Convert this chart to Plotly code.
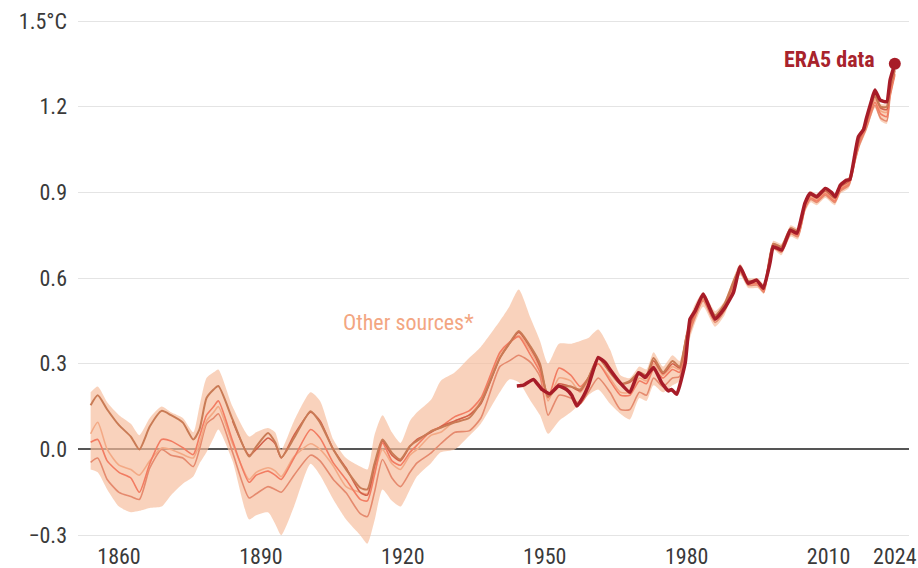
import plotly.graph_objects as go

# ---- data ----
years = [1854.0, 1855.5, 1857.5, 1860, 1862.5, 1864.3, 1866.5, 1869, 1871, 1873.5, 1875.7, 1877, 1878.5,
         1880, 1881, 1884, 1887.5, 1889, 1891.5, 1893, 1894.3, 1897, 1900.5, 1902.5, 1905.3, 1908, 1911,
         1912.5, 1914, 1915.7, 1917.7, 1919.5, 1921.5, 1923, 1926, 1928, 1931, 1934, 1936.5, 1940.5,
         1942.5, 1944.5, 1947, 1949, 1950.7, 1953, 1955.5, 1957.5, 1959.2, 1961.3, 1963.8, 1966, 1968,
         1970, 1971.5, 1973, 1975, 1977, 1978.5, 1980, 1981.5, 1983.5, 1986, 1988, 1991.3, 1993, 1995,
         1996.3, 1998.3, 2000, 2002, 2003.5, 2005, 2006.2, 2007.5, 2009.3, 2011.3, 2012.5, 2014.3, 2015.6,
         2016.5, 2018, 2019.8, 2021, 2022.3, 2023, 2024]

src_a = [0.155, 0.19, 0.14, 0.085, 0.045, 0.0, 0.08, 0.135, 0.12, 0.094, 0.035, 0.07, 0.18,
         0.21, 0.222, 0.105, -0.025, 0.01, 0.058, 0.025, -0.028, 0.04, 0.134, 0.094, 0.0, -0.07, -0.134,
         -0.14, -0.05, 0.035, -0.012, -0.035, 0.012, 0.03, 0.064, 0.076, 0.095, 0.11, 0.165, 0.32,
         0.37, 0.415, 0.36, 0.30, 0.185, 0.22, 0.22, 0.21, 0.25, 0.32, 0.27, 0.23, 0.24,
         0.27, 0.26, 0.32, 0.27, 0.31, 0.29, 0.40, 0.48, 0.535, 0.47, 0.51, 0.635, 0.59, 0.59,
         0.57, 0.72, 0.71, 0.775, 0.765, 0.86, 0.895, 0.885, 0.91, 0.885, 0.925, 0.945, 1.03,
         1.09, 1.15, 1.24, 1.20, 1.20, 1.27, 1.33]

src_b = [0.055, 0.095, 0.0, -0.055, -0.07, -0.09, -0.04, 0.005, 0.0, -0.018, -0.03, 0.02, 0.10,
         0.13, 0.15, 0.02, -0.105, -0.08, -0.064, -0.075, -0.095, -0.025, 0.02, 0.0, -0.058, -0.13, -0.15,
         -0.155, -0.08, 0.0, -0.05, -0.07, -0.02, 0.0, 0.05, 0.06, 0.10, 0.12, 0.17, 0.335,
         0.37, 0.40, 0.345, 0.28, 0.17, 0.25, 0.24, 0.20, 0.24, 0.30, 0.25, 0.20, 0.20,
         0.25, 0.24, 0.30, 0.26, 0.29, 0.28, 0.39, 0.47, 0.53, 0.465, 0.50, 0.63, 0.585, 0.585,
         0.56, 0.715, 0.70, 0.765, 0.755, 0.85, 0.885, 0.875, 0.90, 0.875, 0.915, 0.935, 1.02,
         1.08, 1.14, 1.225, 1.185, 1.18, 1.255, 1.32]

src_c = [0.025, 0.035, -0.04, -0.08, -0.10, -0.15, -0.05, 0.035, 0.03, 0.006, -0.018, 0.045, 0.12,
         0.15, 0.17, 0.03, -0.115, -0.09, -0.076, -0.09, -0.105, -0.03, 0.07, 0.04, -0.047, -0.105, -0.175,
         -0.18, -0.09, 0.023, -0.04, -0.055, -0.01, 0.015, 0.065, 0.08, 0.115, 0.135, 0.18, 0.34,
         0.375, 0.395, 0.33, 0.27, 0.18, 0.285, 0.26, 0.22, 0.25, 0.30, 0.24, 0.19, 0.19,
         0.24, 0.23, 0.28, 0.25, 0.28, 0.27, 0.385, 0.46, 0.525, 0.455, 0.495, 0.625, 0.58, 0.58,
         0.555, 0.71, 0.695, 0.76, 0.75, 0.845, 0.88, 0.87, 0.895, 0.87, 0.91, 0.93, 1.015,
         1.075, 1.135, 1.215, 1.175, 1.165, 1.245, 1.315]

src_d = [-0.045, -0.03, -0.105, -0.15, -0.165, -0.175, -0.065, 0.0, -0.02, -0.03, -0.06, 0.0, 0.09,
         0.11, 0.125, -0.01, -0.17, -0.155, -0.13, -0.14, -0.15, -0.09, -0.02, -0.04, -0.105, -0.152, -0.225,
         -0.235, -0.15, -0.035, -0.10, -0.13, -0.08, -0.047, -0.012, 0.02, 0.06, 0.065, 0.11, 0.29,
         0.31, 0.33, 0.305, 0.255, 0.12, 0.19, 0.18, 0.16, 0.20, 0.25, 0.20, 0.14, 0.14,
         0.20, 0.19, 0.25, 0.22, 0.25, 0.255, 0.37, 0.45, 0.52, 0.445, 0.485, 0.62, 0.575, 0.575,
         0.55, 0.705, 0.69, 0.755, 0.745, 0.84, 0.875, 0.865, 0.89, 0.865, 0.905, 0.925, 1.01,
         1.065, 1.125, 1.205, 1.16, 1.15, 1.235, 1.31]

src_e = [None, None, None, None, None, None, None, None, None, None, None, None, None,
         None, None, 0.10, -0.02, 0.0, 0.04, 0.02, -0.03, 0.05, 0.13, 0.10, 0.0, -0.065, -0.15,
         -0.16, -0.06, 0.03, -0.02, -0.04, 0.01, 0.035, 0.06, 0.08, 0.10, 0.12, 0.16, 0.32,
         0.37, 0.41, 0.355, 0.29, 0.19, 0.23, 0.22, 0.205, 0.25, 0.32, 0.27, 0.23, 0.235,
         0.265, 0.25, 0.31, 0.265, 0.30, 0.285, 0.40, 0.47, 0.535, 0.465, 0.505, 0.635, 0.585, 0.59,
         0.565, 0.72, 0.705, 0.77, 0.76, 0.855, 0.89, 0.88, 0.905, 0.88, 0.92, 0.94, 1.025,
         1.085, 1.145, 1.235, 1.195, 1.19, 1.265, 1.325]

band_upper = [0.20, 0.22, 0.165, 0.12, 0.09, 0.05, 0.11, 0.15, 0.13, 0.11, 0.06, 0.15, 0.25,
              0.27, 0.28, 0.15, 0.045, 0.06, 0.075, 0.06, 0.0, 0.10, 0.20, 0.17, 0.035, -0.03, -0.06,
              -0.07, 0.05, 0.12, 0.06, 0.023, 0.10, 0.13, 0.175, 0.24, 0.27, 0.32, 0.36, 0.45,
              0.50, 0.56, 0.46, 0.38, 0.30, 0.37, 0.37, 0.38, 0.39, 0.42, 0.35, 0.26, 0.25,
              0.29, 0.28, 0.34, 0.29, 0.33, 0.31, 0.42, 0.50, 0.55, 0.485, 0.52, 0.65, 0.60, 0.60,
              0.58, 0.73, 0.72, 0.785, 0.775, 0.87, 0.905, 0.895, 0.92, 0.895, 0.935, 0.955, 1.04,
              1.10, 1.16, 1.25, 1.21, 1.21, 1.28, 1.335]

band_lower = [-0.07, -0.08, -0.14, -0.20, -0.22, -0.215, -0.205, -0.20, -0.16, -0.12, -0.095, -0.05, -0.01,
              0.04, 0.07, -0.04, -0.245, -0.23, -0.22, -0.26, -0.30, -0.20, -0.05, -0.09, -0.175, -0.245, -0.30,
              -0.33, -0.25, -0.14, -0.18, -0.20, -0.14, -0.094, -0.047, -0.01, 0.0, 0.047, 0.09, 0.20,
              0.245, 0.235, 0.17, 0.12, 0.055, 0.10, 0.13, 0.16, 0.19, 0.21, 0.16, 0.125, 0.105,
              0.18, 0.17, 0.225, 0.20, 0.225, 0.24, 0.35, 0.43, 0.50, 0.43, 0.47, 0.61, 0.565, 0.565,
              0.545, 0.70, 0.68, 0.745, 0.735, 0.83, 0.865, 0.855, 0.88, 0.855, 0.895, 0.915, 1.00,
              1.055, 1.115, 1.195, 1.15, 1.14, 1.225, 1.305]

era5_years = [1944.1, 1945.5, 1947.6, 1949.4, 1951.1, 1952.9, 1954.6, 1955.7, 1956.8, 1958.2, 1959.2,
              1961.3, 1962.8, 1963.8, 1965.9, 1968, 1969.8, 1971.2, 1973, 1974.7, 1976.1, 1976.8, 1977.9,
              1979.7, 1980.7, 1981.8, 1983.5, 1986, 1988.1, 1989.9, 1991.3, 1993, 1994.8, 1996.2, 1997.6,
              1998.3, 2000.1, 2001.9, 2003.3, 2005, 2006.1, 2007.5, 2009.3, 2010.6, 2011.4, 2012.5, 2013.8,
              2014.5, 2015.6, 2016.3, 2017.4, 2018, 2019.1, 2019.8, 2020.9, 2022.3, 2023, 2024]
era5_vals = [0.222, 0.225, 0.245, 0.21, 0.195, 0.222, 0.21, 0.19, 0.152, 0.187, 0.222,
             0.322, 0.304, 0.28, 0.234, 0.20, 0.269, 0.252, 0.287, 0.234, 0.205, 0.21, 0.193,
             0.304, 0.456, 0.485, 0.544, 0.456, 0.497, 0.55, 0.64, 0.582, 0.593, 0.564, 0.652,
             0.71, 0.698, 0.768, 0.757, 0.862, 0.897, 0.885, 0.914, 0.90, 0.885, 0.926, 0.943,
             0.945, 1.037, 1.095, 1.12, 1.16, 1.223, 1.258, 1.223, 1.217, 1.293, 1.35]

y_ticks = [-0.3, 0.0, 0.3, 0.6, 0.9, 1.2, 1.5]
y_tick_labels = ["\u22120.3", "0.0", "0.3", "0.6", "0.9", "1.2", "1.5°C"]
x_ticks = [1860, 1890, 1920, 1950, 1980, 2010, 2024]
x_tick_labels = ["1860", "1890", "1920", "1950", "1980", "2010", "2024"]

FONT = "Roboto Condensed, Liberation Sans Narrow, Roboto, sans-serif"
SMOOTH = 0.6

fig = go.Figure()

# uncertainty band
fig.add_trace(go.Scatter(x=years, y=band_upper, mode="lines",
                         line=dict(width=0, shape="spline", smoothing=SMOOTH),
                         hoverinfo="skip", showlegend=False))
fig.add_trace(go.Scatter(x=years, y=band_lower, mode="lines",
                         line=dict(width=0, shape="spline", smoothing=SMOOTH),
                         fill="tonexty", fillcolor="rgba(246,188,156,0.68)",
                         hoverinfo="skip", showlegend=False))

series = [
    (src_d, "#e58a6e", 1.6),
    (src_b, "#f3a985", 1.6),
    (src_c, "#f27c62", 1.6),
    (src_e, "#d2604a", 1.6),
    (src_a, "#c97b55", 2.0),
]
for vals, col, w in series:
    fig.add_trace(go.Scatter(x=years, y=vals, mode="lines",
                             line=dict(color=col, width=w, shape="spline", smoothing=SMOOTH),
                             connectgaps=False, showlegend=False))

fig.add_trace(go.Scatter(x=era5_years, y=era5_vals, mode="lines",
                         line=dict(color="#a71c28", width=3.5, shape="spline", smoothing=0.4),
                         showlegend=False))
fig.add_trace(go.Scatter(x=[era5_years[-1]], y=[era5_vals[-1]], mode="markers",
                         marker=dict(color="#a71c28", size=12), showlegend=False))

fig.add_annotation(x=2020.3, y=1.365, text="<b>ERA5 data</b>", showarrow=False,
                   xanchor="right", yanchor="middle",
                   font=dict(family=FONT, size=22, color="#a8232c"))
fig.add_annotation(x=1921.1, y=0.446, text="Other sources*", showarrow=False,
                   xanchor="center", yanchor="middle",
                   font=dict(family=FONT, size=22, color="#f3a682"))

fig.update_layout(
    width=918, height=568,
    margin=dict(l=78, r=9, t=15, b=20, autoexpand=False),
    paper_bgcolor="white", plot_bgcolor="white",
    font=dict(family=FONT, size=22, color="#3a3a3a"),
    xaxis=dict(range=[1851.33, 2027.0], tickvals=x_ticks, ticktext=x_tick_labels,
               showgrid=False, zeroline=False, showline=False, ticks="",
               ticklabelstandoff=-7, automargin=False, ticklabeloverflow="allow"),
    yaxis=dict(range=[-0.345, 1.521], tickvals=y_ticks, ticktext=y_tick_labels,
               showgrid=True, gridcolor="#e4e4e4", gridwidth=1,
               zeroline=True, zerolinecolor="#555555", zerolinewidth=1.5,
               ticks="", ticklabelstandoff=10, automargin=False),
)

fig.write_html("out.html", config={"displayModeBar": False},
               post_script="document.body.style.margin='0';document.body.style.overflow='hidden';")
